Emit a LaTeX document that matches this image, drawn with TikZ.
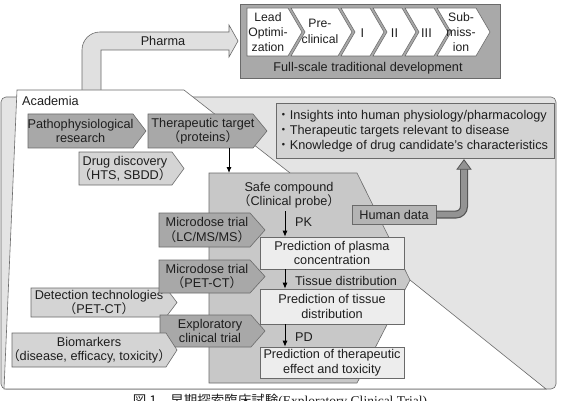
\documentclass[tikz,border=0pt]{standalone}
\usepackage{fontspec}
\setmainfont{Liberation Sans}
\newfontfamily\cjk{Noto Sans CJK JP}
\newfontfamily\capserif{Liberation Serif}
\usetikzlibrary{arrows.meta,calc}
\definecolor{bgc}{HTML}{E4E4E4}
\definecolor{edge}{HTML}{6A6A6A}
\definecolor{tx}{HTML}{1E1E1E}
\definecolor{fullc}{HTML}{A9A9A9}
\definecolor{pharmac}{HTML}{E0E0E0}
\definecolor{clinc}{HTML}{C8C8C8}
\definecolor{darkc}{HTML}{A8A8A8}
\definecolor{lightc}{HTML}{D4D4D4}
\definecolor{predc}{HTML}{EDEDED}
\definecolor{insc}{HTML}{D3D3D3}
\definecolor{humc}{HTML}{B4B4B4}
\definecolor{hdedge}{HTML}{555555}
\definecolor{hdfill}{HTML}{939393}
\newcommand\lp{{\cjk （}}
\newcommand\rp{{\cjk ）}}
\newcommand\bul{{\cjk ・}}
\newcommand\mychev[6]{\filldraw[ln,fill=#6] (#1,#2) -- (#3,#2) -- ({#3+#5},{(#2+#4)/2}) -- (#3,#4) -- (#1,#4) -- cycle;}
\newcommand\mystage[2]{\filldraw[ln,fill=white] (#1,8) -- (#2,8) -- ({#2+14},32) -- (#2,56) -- (#1,56) -- ({#1+14},32) -- cycle;}
\begin{document}
\begin{tikzpicture}[x=1pt,y=-1pt,
  txt/.style={font=\fontsize{12.7}{14.5}\selectfont, text=tx, inner sep=0pt, align=center},
  ln/.style={draw=edge, line width=0.6pt},
  arr/.style={-{Latex[length=6pt,width=5pt]}, line width=0.9pt, draw=black},
  pbox/.style={ln, fill=predc, minimum width=144pt, inner sep=0pt, txt}]
\clip (0,0) rectangle (562,401);
\fill[white] (0,0) rectangle (562,401);
% full-scale development
\filldraw[ln, fill=fullc] (240,4) rectangle (500,78);
\filldraw[ln,fill=white] (247,8) -- (288,8) -- (302,32) -- (288,56) -- (247,56) -- cycle;
\mystage{291}{338}
\mystage{341}{370}
\mystage{373}{402}
\mystage{405}{434}
\mystage{437}{476}
\node[txt, font=\fontsize{12.2}{15}\selectfont] (lead) at (268,32) {Lead\\Optimi-\\zation};
\node[txt, font=\fontsize{12.2}{16}\selectfont] (pre) at (320,31) {Pre-\\clinical};
\node[txt] (ph1) at (362.5,33) {I};
\node[txt] (ph2) at (394.5,33) {II};
\node[txt] (ph3) at (426.5,33) {III};
\node[txt, font=\fontsize{12.2}{15}\selectfont] (sub) at (461,32) {Sub-\\miss-\\ion};
\node[txt] (full) at (368,68) {Full-scale traditional development};
% pharma arrow
\filldraw[ln, fill=pharmac] (82,95) -- (82,50) .. controls (82,40) and (90,32) .. (100,32) -- (229,32) -- (229,25) -- (238,41) -- (229,57) -- (229,50) -- (101,50) -- (101,95);
\node[txt] (pharma) at (163,41) {Pharma};
% academia background
\filldraw[ln, fill=bgc, rounded corners=5pt] (1,97) rectangle (556,389);
\filldraw[ln, fill=white] (17,90) -- (184,90) -- (290,173) -- (410,280) -- (546,389) -- (4,389) -- cycle;
\filldraw[ln, fill=clinc] (209,173) -- (357,173) -- (410,280) -- (357,383) -- (209,383) -- cycle;
\node[txt, anchor=west] (acad) at (22,101) {Academia};
% insights
\node[ln, fill=insc, minimum width=278pt, minimum height=55pt, inner sep=0pt] (ins) at (415,130.5) {};
\node[txt, anchor=west, align=left, font=\fontsize{12.7}{15}\selectfont] (inst) at (277,131) {\bul Insights into human physiology/pharmacology\\\bul Therapeutic targets relevant to disease\\\bul Knowledge of drug candidate’s characteristics};
% upper chevrons
\mychev{28}{114}{133}{148}{13}{darkc}
\node[txt] (patho) at (80.5,131) {Pathophysiological\\research};
\mychev{148}{114}{253}{148}{14}{darkc}
\node[txt] (ther) at (203,131) {Therapeutic target\\\lp proteins\rp};
\mychev{79}{152}{172}{185}{12}{lightc}
\node[txt] (drug) at (125,168.5) {Drug discovery\\\lp HTS, SBDD\rp};
\coordinate (tt) at (229,148);
\coordinate (tb) at (229,173);
\draw[arr] (tt) -- (tb);
% clinical column
\node[txt] (safe) at (289,195) {Safe compound\\\lp Clinical probe\rp};
\node[pbox, minimum height=32pt] (plasma) at (332,253) {Prediction of plasma\\concentration};
\node[pbox, minimum height=35pt] (tissue) at (332,306.5) {Prediction of tissue\\distribution};
\node[pbox, minimum height=31pt] (thera) at (332,362.5) {Prediction of therapeutic\\effect and toxicity};
\coordinate (ax) at (285,0);
\coordinate (pk0) at (285,211);
\draw[arr] (pk0) -- (plasma.north -| ax);
\draw[arr] (plasma.south -| ax) -- (tissue.north -| ax);
\draw[arr] (tissue.south -| ax) -- (thera.north -| ax);
\node[txt, anchor=west] (pk) at (295,222) {PK};
\node[txt, anchor=west] (td) at (295,281) {Tissue distribution};
\node[txt, anchor=west] (pd) at (295,337) {PD};
% human data
\node[ln, fill=humc, minimum width=84pt, minimum height=19pt, inner sep=0pt, txt] (human) at (394,214.5) {Human data};
\coordinate (up) at (464,0);
\draw[line width=8pt, draw=hdedge, rounded corners=8pt] (human.east) -- (human.east -| up) -- ($(ins.south -| up)+(0,10)$);
\draw[line width=5.6pt, draw=hdfill, rounded corners=8pt] ($(human.east)+(0.6,0)$) -- (human.east -| up) -- ($(ins.south -| up)+(0,10.5)$);
\filldraw[draw=hdedge, fill=hdfill, line width=0.8pt] ($(ins.south -| up)+(-7,11)$) -- ($(ins.south -| up)+(7,11)$) -- ($(ins.south -| up)+(0,1.5)$) -- cycle;
% left chevrons
\mychev{159}{213}{250}{247}{15}{darkc}
\node[txt] (micro1) at (207,230) {Microdose trial\\\lp LC/MS/MS\rp};
\mychev{31}{288}{166}{317}{11}{lightc}
\node[txt] (detect) at (99,302.5) {Detection technologies\\\lp PET-CT\rp};
\mychev{159}{260}{250}{293}{15}{darkc}
\node[txt] (micro2) at (207,276.5) {Microdose trial\\\lp PET-CT\rp};
\mychev{160}{315}{251}{347}{14}{darkc}
\node[txt] (explor) at (210,331) {Exploratory\\clinical trial};
\mychev{12}{333}{166}{367}{11}{lightc}
\node[txt] (bio) at (89,350) {Biomarkers\\\lp disease, efficacy, toxicity\rp};
% caption (cut by the lower edge)
\node[anchor=base, text=tx, inner sep=0pt, font=\fontsize{13.5}{14}\selectfont] (cap) at (280,405) {{\cjk 図 1　早期探索臨床試験}{\capserif (Exploratory Clinical Trial)}};
\end{tikzpicture}
\end{document}
